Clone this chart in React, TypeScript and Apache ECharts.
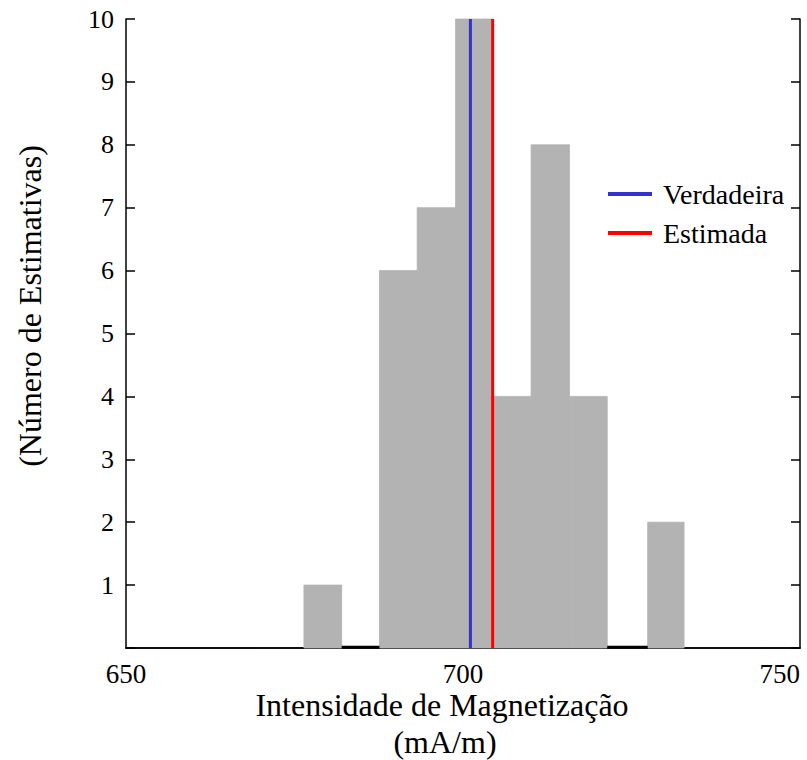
import React, { useEffect, useRef } from "react";
import * as echarts from "echarts";

const binEdges = [676.4, 682.0, 687.6, 693.2, 698.9, 704.5, 710.1, 715.8, 721.4, 727.4, 732.8];
const counts = [1, 0, 6, 7, 10, 4, 8, 4, 0, 2];
const trueValue = 701.1;
const estValue = 704.4;
const xTicks = [650, 700, 750];
const yTicks = [1, 2, 3, 4, 5, 6, 7, 8, 9, 10];

const FONT = "'Liberation Serif', 'Times New Roman', serif";

export default function App() {
  const ref = useRef<HTMLDivElement>(null);
  useEffect(() => {
    document.body.style.margin = "0";
    const chart = echarts.init(ref.current!, null, { renderer: "svg" });
    const binData = counts.map((c, i) => [binEdges[i], binEdges[i + 1], c]);
    const axisLine = { show: true, lineStyle: { color: "#000", width: 1.5 } };
    chart.setOption({
      animation: false,
      backgroundColor: "#fff",
      grid: { left: 126, right: 7, top: 19, bottom: 112 },
      xAxis: [
        {
          type: "value",
          min: 650,
          max: 750,
          interval: 50,
          axisLine,
          axisTick: { show: false },
          splitLine: { show: false },
          axisLabel: {
            color: "#000",
            fontFamily: FONT,
            fontSize: 27,
            margin: 12,
            alignMaxLabel: "right",
            formatter: (v: number) => (xTicks.includes(v) ? String(v) : ""),
          },
        },
        {
          type: "value",
          position: "top",
          min: 650,
          max: 750,
          axisLine,
          axisTick: { show: false },
          axisLabel: { show: false },
          splitLine: { show: false },
        },
      ],
      yAxis: [
        {
          type: "value",
          min: 0,
          max: 10,
          interval: 1,
          axisLine,
          axisTick: { show: true, inside: true, length: 9, lineStyle: { color: "#000", width: 1.5 } },
          splitLine: { show: false },
          axisLabel: {
            color: "#000",
            fontFamily: FONT,
            fontSize: 26,
            margin: 12,
            formatter: (v: number) => (yTicks.includes(v) ? String(v) : ""),
          },
        },
        {
          type: "value",
          position: "right",
          min: 0,
          max: 10,
          interval: 1,
          axisLine,
          axisTick: { show: true, inside: true, length: 9, lineStyle: { color: "#000", width: 1.5 } },
          splitLine: { show: false },
          axisLabel: { show: false },
        },
      ],
      series: [
        {
          type: "custom",
          xAxisIndex: 0,
          yAxisIndex: 0,
          z: 3,
          data: binData,
          renderItem: (params: any, api: any) => {
            const x0 = api.value(0);
            const x1 = api.value(1);
            const c = api.value(2);
            const p0 = api.coord([x0, 0]);
            const p1 = api.coord([x1, c]);
            if (c === 0) {
              return {
                type: "line",
                z2: 10,
                shape: { x1: p0[0], y1: p0[1] - 1, x2: p1[0], y2: p0[1] - 1 },
                style: { stroke: "#000", lineWidth: 2.5 },
              };
            }
            return {
              type: "rect",
              shape: { x: p0[0], y: p1[1], width: p1[0] - p0[0], height: p0[1] - p1[1] },
              style: { fill: "#b3b3b3", stroke: "#b3b3b3", lineWidth: 0.8 },
            };
          },
        },
        {
          name: "Verdadeira",
          type: "line",
          z: 5,
          symbol: "none",
          data: [[trueValue, 0], [trueValue, 10]],
          itemStyle: { color: "#3333cc" },
          lineStyle: { color: "#3333cc", width: 3 },
        },
        {
          name: "Estimada",
          type: "line",
          z: 5,
          symbol: "none",
          data: [[estValue, 0], [estValue, 10]],
          itemStyle: { color: "#ff0000" },
          lineStyle: { color: "#ff0000", width: 3 },
        },
      ],
      legend: {
        show: true,
        orient: "vertical",
        left: 608,
        top: 180,
        padding: 0,
        itemWidth: 44,
        itemHeight: 4,
        itemGap: 11,
        icon: "rect",
        textStyle: { fontFamily: FONT, fontSize: 28, lineHeight: 28, color: "#000", padding: [0, 0, 0, 6] },
        data: ["Verdadeira", "Estimada"],
      },
      graphic: [
        {
          type: "text",
          x: 30,
          y: 306,
          rotation: Math.PI / 2,
          style: {
            text: "(Número de Estimativas)",
            font: `32px ${FONT}`,
            fill: "#000",
            align: "center",
            verticalAlign: "middle",
          },
        },
        {
          type: "text",
          x: 442,
          y: 705,
          style: {
            text: "Intensidade de Magnetização",
            font: `32px ${FONT}`,
            fill: "#000",
            align: "center",
            verticalAlign: "middle",
          },
        },
        {
          type: "text",
          x: 445,
          y: 742,
          style: {
            text: "(mA/m)",
            font: `32px ${FONT}`,
            fill: "#000",
            align: "center",
            verticalAlign: "middle",
          },
        },
      ],
    });
    return () => chart.dispose();
  }, []);
  return <div ref={ref} style={{ width: 807, height: 760 }} />;
}
